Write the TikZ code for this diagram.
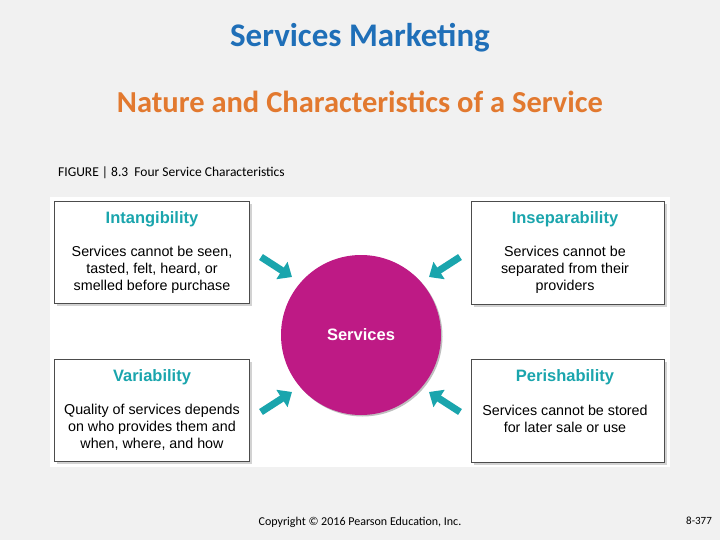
\documentclass[tikz,border=0pt]{standalone}
\usepackage{fontspec}
\setmainfont{Carlito}
\newfontfamily\arial{Liberation Sans}
\usetikzlibrary{arrows.meta,shadows}
\definecolor{ttl}{HTML}{1F6FB8}
\definecolor{sub}{HTML}{E2792F}
\definecolor{teal}{HTML}{1AA5AD}
\definecolor{mag}{HTML}{BE1A85}
\definecolor{slide}{HTML}{F1F1F1}
\tikzset{
  card/.style={draw=black!70,line width=0.6pt,fill=white,minimum width=195pt,minimum height=102pt,anchor=north west,drop shadow={shadow xshift=3pt,shadow yshift=-3pt,opacity=0.35}},
  head/.style={font=\arial\bfseries\fontsize{16.5}{18}\selectfont,text=teal},
  body/.style={font=\arial\fontsize{14.3}{17}\selectfont,align=center},
  arr/.style={-{Triangle[length=12pt,width=20pt]},line width=7pt,draw=teal}
}
\begin{document}
\begin{tikzpicture}[x=1pt,y=-1pt]
\fill[slide] (0,0) rectangle (720,540);
\useasboundingbox (0,0) rectangle (720,540);
\node[text=ttl,font=\bfseries\fontsize{33}{38}\selectfont] (t) at (360,38) {Services Marketing};
\node[text=sub,font=\bfseries\fontsize{30.5}{36}\selectfont] (s) at (360,102) {Nature and Characteristics of a Service};
\node[anchor=west,font=\fontsize{13.5}{15}\selectfont,inner sep=0] (cap) at (58,173) {FIGURE | 8.3\ \ Four Service Characteristics};
\fill[white] (50,197) rectangle (670,467);
\node[card] (c1) at (54,201) {};
\node[card,minimum width=193pt,minimum height=103pt] (c2) at (471,201) {};
\node[card] (c3) at (54,359) {};
\node[card,minimum width=193pt,minimum height=103pt] (c4) at (471,359) {};
\node[head] (h1) at (152,219) {Intangibility};
\node[body] (b1) at (152,270) {Services cannot be seen,\\tasted, felt, heard, or\\smelled before purchase};
\node[head] (h2) at (565,219) {Inseparability};
\node[body] (b2) at (565,270) {Services cannot be\\separated from their\\providers};
\node[head] (h3) at (152,377) {Variability};
\node[body] (b3) at (152,427) {Quality of services depends\\on who provides them and\\when, where, and how};
\node[head] (h4) at (565,377) {Perishability};
\node[body] (b4) at (565,419) {Services cannot be stored\\for later sale or use};
\node[circle,fill=mag,minimum size=160pt,drop shadow={shadow xshift=1.5pt,shadow yshift=-1.5pt,opacity=0.5},text=white,font=\arial\bfseries\fontsize{16.5}{18}\selectfont] (sv) at (361,335) {Services};
\coordinate (a1s) at (261,257); \coordinate (a1e) at (292,277);
\coordinate (a2s) at (460,257); \coordinate (a2e) at (429,277);
\coordinate (a3s) at (261,412); \coordinate (a3e) at (292,392);
\coordinate (a4s) at (460,412); \coordinate (a4e) at (429,392);
\draw[arr] (a1s) -- (a1e);
\draw[arr] (a2s) -- (a2e);
\draw[arr] (a3s) -- (a3e);
\draw[arr] (a4s) -- (a4e);
\node[font=\fontsize{12}{14}\selectfont] (cp) at (360,522) {Copyright © 2016 Pearson Education, Inc.};
\node[font=\fontsize{11}{13}\selectfont] (pg) at (699,521) {8-377};
\end{tikzpicture}
\end{document}
